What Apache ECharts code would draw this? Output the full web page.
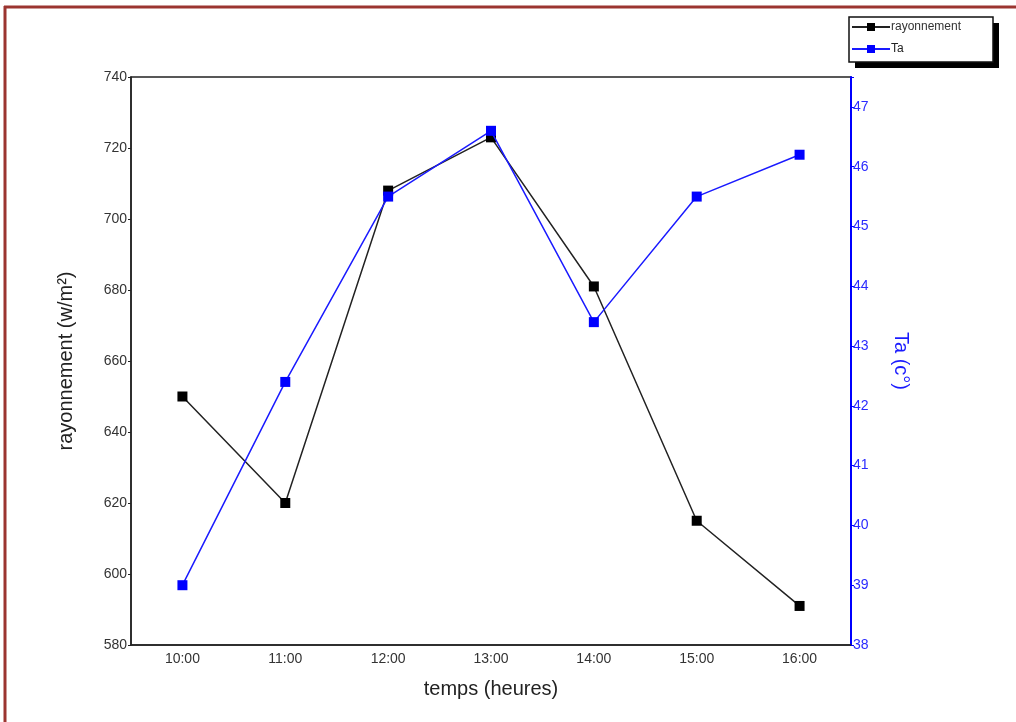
<!DOCTYPE html>
<html>
<head>
<meta charset="utf-8">
<script src="https://cdn.jsdelivr.net/npm/echarts@6/dist/echarts.min.js"></script>
<style>html,body{margin:0;padding:0;background:#fff;}#c{width:1016px;height:722px;}</style>
</head>
<body>
<div id="c"></div>
<script>
var categories = ['10:00', '11:00', '12:00', '13:00', '14:00', '15:00', '16:00'];
var rayonnement = [650, 620, 708, 723, 681, 615, 591];
var ta = [39.0, 42.4, 45.5, 46.6, 43.4, 45.5, 46.2];
var leftTicks = [580, 740, 20];
var rightTicks = [38, 47.5, 1];

var chart = echarts.init(document.getElementById('c'));
var font = '"Liberation Sans", Arial, sans-serif';
chart.setOption({
  animation: false,
  backgroundColor: '#fff',
  textStyle: { fontFamily: font },
  grid: { left: 131, right: 165, top: 77, bottom: 77, show: true, borderColor: '#222', borderWidth: 1.5, backgroundColor: 'transparent' },
  legend: {
    orient: 'vertical', left: 851, top: 21, itemWidth: 38, itemHeight: 10, itemGap: 10,
    padding: 0, z: 10,
    textStyle: { fontSize: 12, color: '#333', fontFamily: font, padding: [0, 0, 0, -4] },
    data: [{ name: 'rayonnement' }, { name: 'Ta', textStyle: { color: '#222' } }]
  },
  xAxis: {
    type: 'category', data: categories, boundaryGap: true,
    name: 'temps (heures)', nameLocation: 'middle', nameGap: 34,
    nameTextStyle: { fontSize: 20, color: '#222', fontFamily: font },
    axisLine: { show: true, lineStyle: { color: '#222', width: 1.5 } },
    axisTick: { show: false },
    axisLabel: { fontSize: 14, color: '#333', margin: 7, fontFamily: font },
    splitLine: { show: false }
  },
  yAxis: [{
    type: 'value', min: leftTicks[0], max: leftTicks[1], interval: leftTicks[2], position: 'left',
    name: 'rayonnement (w/m²)', nameLocation: 'middle', nameGap: 55,
    nameTextStyle: { fontSize: 20, color: '#222', fontFamily: font },
    axisLine: { show: true, lineStyle: { color: '#222', width: 1.5 } },
    axisTick: { show: true, length: 3, lineStyle: { color: '#222' } },
    axisLabel: { fontSize: 14, color: '#333', margin: 4, fontFamily: font },
    splitLine: { show: false }
  }, {
    type: 'value', min: rightTicks[0], max: rightTicks[1], interval: rightTicks[2], position: 'right',
    name: 'Ta (c°)', nameLocation: 'middle', nameGap: 40, nameRotate: -90,
    nameTextStyle: { fontSize: 20, color: '#1a1aff', fontFamily: font },
    axisLine: { show: true, lineStyle: { color: '#0000ff', width: 2 } },
    axisTick: { show: true, inside: false, length: 3, lineStyle: { color: '#0000ff' } },
    axisLabel: { fontSize: 14, color: '#2a2aff', margin: 2, fontFamily: font,
      formatter: function (v) { return Math.abs(v - Math.round(v)) < 1e-6 ? String(Math.round(v)) : ''; } },
    splitLine: { show: false }
  }],
  series: [{
    name: 'rayonnement', type: 'line', yAxisIndex: 0, data: rayonnement,
    symbol: 'rect', symbolSize: 10, showAllSymbol: true,
    lineStyle: { color: '#222', width: 1.5 }, itemStyle: { color: '#000' }, z: 2
  }, {
    name: 'Ta', type: 'line', yAxisIndex: 1, data: ta,
    symbol: 'rect', symbolSize: 10, showAllSymbol: true,
    lineStyle: { color: '#1a1aff', width: 1.5 }, itemStyle: { color: '#0000ff' }, z: 3
  }],
  graphic: [
    { type: 'line', shape: { x1: 4, y1: 7, x2: 1016, y2: 7 }, style: { stroke: '#9b3530', lineWidth: 3 } },
    { type: 'line', shape: { x1: 5, y1: 6, x2: 5, y2: 722 }, style: { stroke: '#9b3530', lineWidth: 3 } },
    { type: 'rect', z: 1, shape: { x: 855, y: 23, width: 144, height: 45 }, style: { fill: '#000' } },
    { type: 'rect', z: 2, shape: { x: 849, y: 17, width: 144, height: 45 }, style: { fill: '#fff', stroke: '#111', lineWidth: 1.5 } }
  ]
});
</script>
</body>
</html>
